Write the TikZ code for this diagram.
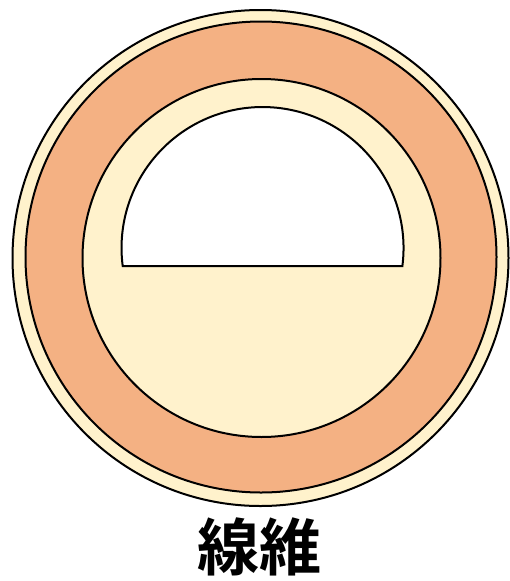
\documentclass[tikz,border=0pt]{standalone}
\usepackage{fontspec}
\newfontfamily\cjk{Noto Sans CJK JP Bold}
\definecolor{lightyel}{HTML}{FFF2CC}
\definecolor{peach}{HTML}{F4B183}
\begin{document}
\begin{tikzpicture}[x=1pt,y=-1pt,
  ring/.style={draw=black,line width=2pt}]
\useasboundingbox (0,0) rectangle (510,581);
\fill[white] (0,0) rectangle (510,581);
\draw[ring,fill=lightyel] (260.5,258) circle[radius=248];
\draw[ring,fill=peach] (261,257) circle[radius=235.5];
\draw[ring,fill=lightyel] (261.5,258) circle[radius=179];
\draw[ring,fill=white,line join=miter] ({262.5-139.8},266) arc[start angle=187.33,end angle=-7.33,x radius=141,y radius=-141] -- cycle;
\node[font=\cjk\fontsize{62}{62}\selectfont,inner sep=0pt] (label) at (259,547) {線維};
\end{tikzpicture}
\end{document}
